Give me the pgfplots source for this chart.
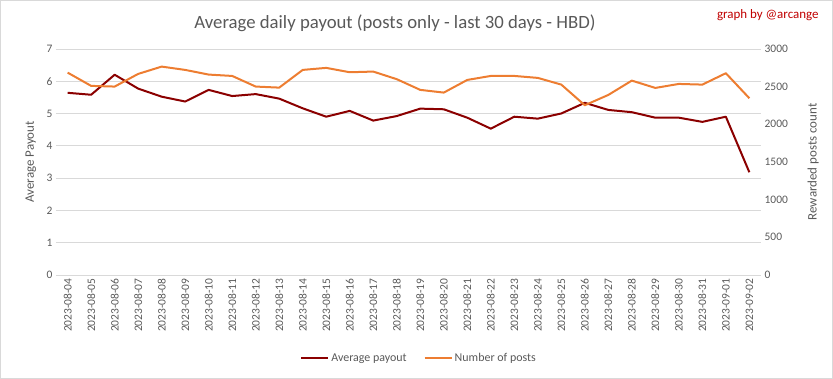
\documentclass[border=0pt]{standalone}
\usepackage{fontspec}
\setmainfont{Carlito}
\usepackage{pgfplots}
\usepackage{pgfplotstable}
\pgfplotsset{compat=1.18}
\definecolor{pay}{HTML}{8B0000}
\definecolor{posts}{HTML}{ED7D31}
\definecolor{txt}{HTML}{595959}
\definecolor{grd}{HTML}{D9D9D9}
\definecolor{credit}{HTML}{C00000}
\pgfplotstableread{
idx date payout posts
0 2023-08-04 5.64 2685
1 2023-08-05 5.58 2509
2 2023-08-06 6.20 2500
3 2023-08-07 5.77 2668
4 2023-08-08 5.52 2765
5 2023-08-09 5.37 2721
6 2023-08-10 5.73 2659
7 2023-08-11 5.54 2641
8 2023-08-12 5.60 2500
9 2023-08-13 5.46 2486
10 2023-08-14 5.16 2721
11 2023-08-15 4.90 2748
12 2023-08-16 5.08 2690
13 2023-08-17 4.78 2699
14 2023-08-18 4.92 2598
15 2023-08-19 5.15 2456
16 2023-08-20 5.13 2420
17 2023-08-21 4.87 2588
18 2023-08-22 4.53 2641
19 2023-08-23 4.90 2641
20 2023-08-24 4.84 2615
21 2023-08-25 5.00 2526
22 2023-08-26 5.33 2252
23 2023-08-27 5.11 2389
24 2023-08-28 5.04 2579
25 2023-08-29 4.87 2482
26 2023-08-30 4.87 2535
27 2023-08-31 4.74 2526
28 2023-09-01 4.90 2677
29 2023-09-02 3.18 2345
}\data
\pgfplotsset{
  common/.style={
    at={(67.75bp,104bp)}, anchor=origin, scale only axis,
    width=705bp, height=226bp,
    xmin=-0.5, xmax=29.5,
    axis line style={draw=none},
    major tick length=0pt,
    scaled ticks=false,
    /pgf/number format/1000 sep={},
    /pgf/number format/assume math mode=true,
    tick label style={font=\fontsize{11.5}{13}\selectfont, text=txt},
    label style={font=\fontsize{13}{15}\selectfont, text=txt},
  }
}
\begin{document}
\begin{tikzpicture}
\draw[grd, line width=0.75bp] (0.5bp,0.5bp) rectangle (832.5bp,378.5bp);
\begin{axis}[common,
  ymin=0, ymax=7, ytick={0,1,...,7},
  xtick={0,...,29},
  xticklabels from table={\data}{date},
  x tick label style={rotate=90, anchor=east},
  ymajorgrids, grid style={grd, line width=0.75bp},
  ylabel={Average Payout},
  y label style={at={(axis description cs:-0.0355,0.5)}, anchor=center},
  legend columns=2,
  legend style={at={(axis description cs:0.515,-0.367)}, anchor=center, draw=none, fill=none,
    font=\fontsize{12}{14}\selectfont, text=txt,
    /tikz/every even column/.append style={column sep=15bp}},
  legend image code/.code={\draw[#1] (0bp,0bp) -- (27bp,0bp);},
]
\addplot[pay, line width=2bp, line join=round] table[x=idx, y=payout] {\data};
\addlegendentry{Average payout}
\addlegendimage{posts, line width=2bp}
\addlegendentry{Number of posts}
\end{axis}
\begin{axis}[common,
  ymin=0, ymax=3000, ytick={0,500,...,3000},
  axis y line*=right, axis x line=none,
  xtick=\empty,
  ylabel={Rewarded posts count},
  y label style={at={(axis description cs:1.0738,0.5)}, anchor=center},
]
\addplot[posts, line width=2bp, line join=round] table[x=idx, y=posts] {\data};
\end{axis}
\node[font=\fontsize{18.8}{22}\selectfont, text=txt, anchor=base] at (395bp,350.3bp) {Average daily payout (posts only - last 30 days - HBD)};
\node[font=\fontsize{13}{15}\selectfont, text=credit, anchor=base east] at (822bp,360.5bp) {graph by @arcange};
\end{tikzpicture}
\end{document}
